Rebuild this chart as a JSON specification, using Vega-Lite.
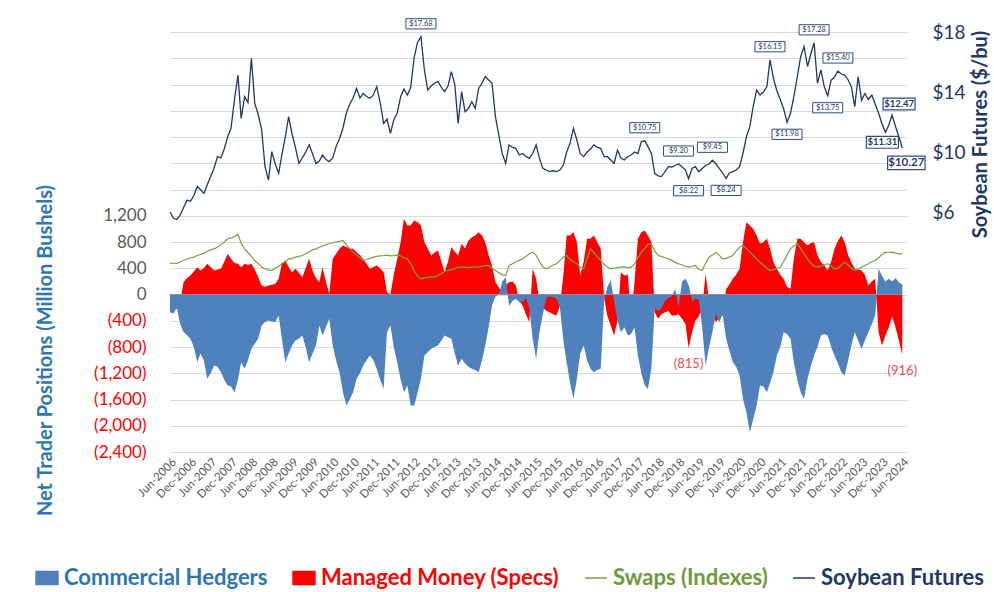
{
"$schema":"https://vega.github.io/schema/vega-lite/v6.json",
"autosize":"none","width":737,"height":420,
"padding":{"left":170,"top":32,"right":87,"bottom":140},
"background":"#ffffff",
"config":{"view":{"stroke":null},"font":"Lato","axis":{"labelOverlap":false,"labelBound":false,"labelFlush":false}},
"datasets":{
"main":[
{"d":"2006-06-01","c":-270,"mm":-150,"s":470,"p":6.0},
{"d":"2006-07-01","c":-290,"mm":-215,"s":480,"p":5.6},
{"d":"2006-08-01","c":-200,"mm":-215,"s":470,"p":5.5},
{"d":"2006-09-01","c":-450,"mm":-100,"s":500,"p":5.8},
{"d":"2006-10-01","c":-574,"mm":187,"s":518,"p":6.3},
{"d":"2006-11-01","c":-620,"mm":250,"s":540,"p":6.8},
{"d":"2006-12-01","c":-675,"mm":290,"s":560,"p":6.7},
{"d":"2007-01-01","c":-800,"mm":350,"s":570,"p":7.1},
{"d":"2007-02-01","c":-1031,"mm":416,"s":594,"p":7.7},
{"d":"2007-03-01","c":-900,"mm":366,"s":610,"p":7.5},
{"d":"2007-04-01","c":-1000,"mm":400,"s":630,"p":7.24},
{"d":"2007-05-01","c":-1285,"mm":468,"s":660,"p":7.8},
{"d":"2007-06-01","c":-1200,"mm":420,"s":680,"p":8.36},
{"d":"2007-07-01","c":-1082,"mm":366,"s":696,"p":8.9},
{"d":"2007-08-01","c":-1100,"mm":380,"s":720,"p":9.69},
{"d":"2007-09-01","c":-1184,"mm":392,"s":760,"p":9.6},
{"d":"2007-10-01","c":-1300,"mm":500,"s":800,"p":10.2},
{"d":"2007-11-01","c":-1387,"mm":620,"s":849,"p":11.02},
{"d":"2007-12-01","c":-1400,"mm":544,"s":860,"p":11.6},
{"d":"2008-01-01","c":-1489,"mm":480,"s":880,"p":13.5},
{"d":"2008-02-01","c":-1300,"mm":468,"s":920,"p":15.13},
{"d":"2008-03-01","c":-1031,"mm":416,"s":780,"p":12.24},
{"d":"2008-04-01","c":-1133,"mm":468,"s":696,"p":13.69},
{"d":"2008-05-01","c":-1000,"mm":450,"s":640,"p":13.3},
{"d":"2008-06-01","c":-828,"mm":468,"s":580,"p":16.24},
{"d":"2008-07-01","c":-750,"mm":380,"s":518,"p":13.24},
{"d":"2008-08-01","c":-675,"mm":264,"s":470,"p":12.5},
{"d":"2008-09-01","c":-472,"mm":137,"s":420,"p":11.47},
{"d":"2008-10-01","c":-420,"mm":120,"s":392,"p":9.02},
{"d":"2008-11-01","c":-396,"mm":137,"s":370,"p":8.13},
{"d":"2008-12-01","c":-410,"mm":150,"s":366,"p":10.02},
{"d":"2009-01-01","c":-420,"mm":160,"s":400,"p":9.2},
{"d":"2009-02-01","c":-320,"mm":239,"s":430,"p":8.58},
{"d":"2009-03-01","c":-675,"mm":468,"s":468,"p":9.8},
{"d":"2009-04-01","c":-1031,"mm":520,"s":500,"p":11.0},
{"d":"2009-05-01","c":-900,"mm":420,"s":544,"p":12.36},
{"d":"2009-06-01","c":-778,"mm":340,"s":550,"p":11.2},
{"d":"2009-07-01","c":-700,"mm":392,"s":570,"p":10.3},
{"d":"2009-08-01","c":-675,"mm":330,"s":580,"p":9.24},
{"d":"2009-09-01","c":-625,"mm":264,"s":594,"p":9.6},
{"d":"2009-10-01","c":-800,"mm":400,"s":620,"p":10.0},
{"d":"2009-11-01","c":-1031,"mm":544,"s":650,"p":10.47},
{"d":"2009-12-01","c":-900,"mm":366,"s":680,"p":9.9},
{"d":"2010-01-01","c":-780,"mm":250,"s":696,"p":9.24},
{"d":"2010-02-01","c":-472,"mm":188,"s":720,"p":9.4},
{"d":"2010-03-01","c":-625,"mm":416,"s":740,"p":9.8},
{"d":"2010-04-01","c":-500,"mm":200,"s":760,"p":9.5},
{"d":"2010-05-01","c":-370,"mm":10,"s":773,"p":9.36},
{"d":"2010-06-01","c":-778,"mm":544,"s":790,"p":9.6},
{"d":"2010-07-01","c":-1000,"mm":620,"s":800,"p":10.36},
{"d":"2010-08-01","c":-1184,"mm":696,"s":810,"p":10.9},
{"d":"2010-09-01","c":-1489,"mm":747,"s":823,"p":11.6},
{"d":"2010-10-01","c":-1692,"mm":722,"s":760,"p":12.58},
{"d":"2010-11-01","c":-1600,"mm":700,"s":696,"p":13.2},
{"d":"2010-12-01","c":-1489,"mm":696,"s":640,"p":13.6},
{"d":"2011-01-01","c":-1285,"mm":645,"s":600,"p":14.24},
{"d":"2011-02-01","c":-1200,"mm":600,"s":560,"p":13.6},
{"d":"2011-03-01","c":-1082,"mm":544,"s":518,"p":13.9},
{"d":"2011-04-01","c":-1000,"mm":470,"s":530,"p":13.7},
{"d":"2011-05-01","c":-930,"mm":392,"s":550,"p":13.58},
{"d":"2011-06-01","c":-1000,"mm":420,"s":569,"p":13.8},
{"d":"2011-07-01","c":-1133,"mm":442,"s":580,"p":14.36},
{"d":"2011-08-01","c":-1300,"mm":400,"s":590,"p":13.3},
{"d":"2011-09-01","c":-1438,"mm":340,"s":594,"p":11.91},
{"d":"2011-10-01","c":-574,"mm":36,"s":600,"p":12.2},
{"d":"2011-11-01","c":-472,"mm":0,"s":590,"p":11.24},
{"d":"2011-12-01","c":-800,"mm":300,"s":594,"p":12.13},
{"d":"2012-01-01","c":-1031,"mm":544,"s":600,"p":12.6},
{"d":"2012-02-01","c":-1300,"mm":800,"s":590,"p":13.69},
{"d":"2012-03-01","c":-1489,"mm":1154,"s":560,"p":14.2},
{"d":"2012-04-01","c":-1387,"mm":1052,"s":544,"p":13.8},
{"d":"2012-05-01","c":-1692,"mm":1052,"s":468,"p":14.3},
{"d":"2012-06-01","c":-1692,"mm":1128,"s":360,"p":16.3},
{"d":"2012-07-01","c":-1500,"mm":1100,"s":280,"p":17.3},
{"d":"2012-08-01","c":-1285,"mm":1052,"s":239,"p":17.68},
{"d":"2012-09-01","c":-930,"mm":798,"s":250,"p":15.47},
{"d":"2012-10-01","c":-880,"mm":700,"s":260,"p":14.13},
{"d":"2012-11-01","c":-828,"mm":594,"s":270,"p":14.4},
{"d":"2012-12-01","c":-800,"mm":640,"s":264,"p":14.6},
{"d":"2013-01-01","c":-778,"mm":671,"s":290,"p":14.69},
{"d":"2013-02-01","c":-700,"mm":500,"s":320,"p":14.3},
{"d":"2013-03-01","c":-625,"mm":340,"s":350,"p":14.02},
{"d":"2013-04-01","c":-650,"mm":500,"s":366,"p":14.4},
{"d":"2013-05-01","c":-675,"mm":722,"s":380,"p":15.36},
{"d":"2013-06-01","c":-900,"mm":650,"s":400,"p":14.5},
{"d":"2013-07-01","c":-1082,"mm":594,"s":410,"p":11.91},
{"d":"2013-08-01","c":-980,"mm":773,"s":416,"p":14.02},
{"d":"2013-09-01","c":-1050,"mm":700,"s":420,"p":12.69},
{"d":"2013-10-01","c":-1100,"mm":820,"s":410,"p":12.9},
{"d":"2013-11-01","c":-1133,"mm":874,"s":416,"p":13.36},
{"d":"2013-12-01","c":-1150,"mm":900,"s":416,"p":12.9},
{"d":"2014-01-01","c":-1184,"mm":950,"s":420,"p":14.24},
{"d":"2014-02-01","c":-1000,"mm":900,"s":430,"p":14.6},
{"d":"2014-03-01","c":-778,"mm":798,"s":440,"p":15.02},
{"d":"2014-04-01","c":-500,"mm":600,"s":442,"p":14.8},
{"d":"2014-05-01","c":-168,"mm":442,"s":400,"p":14.58},
{"d":"2014-06-01","c":-30,"mm":188,"s":366,"p":12.36},
{"d":"2014-07-01","c":0,"mm":112,"s":330,"p":11.13},
{"d":"2014-08-01","c":200,"mm":20,"s":300,"p":9.9},
{"d":"2014-09-01","c":264,"mm":150,"s":290,"p":9.24},
{"d":"2014-10-01","c":-170,"mm":188,"s":442,"p":10.47},
{"d":"2014-11-01","c":-100,"mm":200,"s":470,"p":10.3},
{"d":"2014-12-01","c":-66,"mm":137,"s":500,"p":10.24},
{"d":"2015-01-01","c":-117,"mm":-100,"s":520,"p":9.8},
{"d":"2015-02-01","c":-117,"mm":-170,"s":544,"p":9.9},
{"d":"2015-03-01","c":-50,"mm":-300,"s":580,"p":9.7},
{"d":"2015-04-01","c":-200,"mm":-424,"s":620,"p":9.58},
{"d":"2015-05-01","c":-675,"mm":392,"s":645,"p":9.9},
{"d":"2015-06-01","c":-980,"mm":239,"s":600,"p":10.47},
{"d":"2015-07-01","c":-574,"mm":-100,"s":500,"p":9.58},
{"d":"2015-08-01","c":-300,"mm":-200,"s":420,"p":8.91},
{"d":"2015-09-01","c":-50,"mm":-250,"s":392,"p":8.8},
{"d":"2015-10-01","c":-30,"mm":-270,"s":420,"p":8.69},
{"d":"2015-11-01","c":-40,"mm":-300,"s":450,"p":8.75},
{"d":"2015-12-01","c":-60,"mm":-320,"s":468,"p":8.69},
{"d":"2016-01-01","c":-200,"mm":-170,"s":520,"p":8.8},
{"d":"2016-02-01","c":-700,"mm":300,"s":570,"p":9.13},
{"d":"2016-03-01","c":-1031,"mm":900,"s":594,"p":10.0},
{"d":"2016-04-01","c":-1350,"mm":900,"s":540,"p":10.58},
{"d":"2016-05-01","c":-1590,"mm":950,"s":500,"p":11.58},
{"d":"2016-06-01","c":-1285,"mm":800,"s":468,"p":10.8},
{"d":"2016-07-01","c":-900,"mm":290,"s":420,"p":9.9},
{"d":"2016-08-01","c":-778,"mm":500,"s":392,"p":9.69},
{"d":"2016-09-01","c":-1000,"mm":850,"s":550,"p":10.0},
{"d":"2016-10-01","c":-1133,"mm":850,"s":696,"p":10.2},
{"d":"2016-11-01","c":-1184,"mm":900,"s":640,"p":10.47},
{"d":"2016-12-01","c":-1150,"mm":800,"s":580,"p":10.3},
{"d":"2017-01-01","c":-1133,"mm":696,"s":520,"p":10.24},
{"d":"2017-02-01","c":-100,"mm":-50,"s":460,"p":9.69},
{"d":"2017-03-01","c":112,"mm":-320,"s":420,"p":9.7},
{"d":"2017-04-01","c":220,"mm":-472,"s":392,"p":9.47},
{"d":"2017-05-01","c":-100,"mm":-625,"s":400,"p":9.24},
{"d":"2017-06-01","c":-400,"mm":-400,"s":410,"p":10.13},
{"d":"2017-07-01","c":-574,"mm":340,"s":416,"p":9.6},
{"d":"2017-08-01","c":-500,"mm":290,"s":420,"p":9.47},
{"d":"2017-09-01","c":-625,"mm":300,"s":410,"p":9.7},
{"d":"2017-10-01","c":-600,"mm":-370,"s":416,"p":9.8},
{"d":"2017-11-01","c":-500,"mm":200,"s":470,"p":10.0},
{"d":"2017-12-01","c":-930,"mm":850,"s":560,"p":9.9},
{"d":"2018-01-01","c":-1200,"mm":950,"s":645,"p":10.69},
{"d":"2018-02-01","c":-1387,"mm":975,"s":700,"p":10.75},
{"d":"2018-03-01","c":-1438,"mm":900,"s":760,"p":10.36},
{"d":"2018-04-01","c":-1133,"mm":798,"s":773,"p":9.9},
{"d":"2018-05-01","c":-200,"mm":-270,"s":660,"p":8.58},
{"d":"2018-06-01","c":-250,"mm":-370,"s":594,"p":8.4},
{"d":"2018-07-01","c":-200,"mm":-300,"s":580,"p":8.36},
{"d":"2018-08-01","c":-100,"mm":-270,"s":560,"p":8.7},
{"d":"2018-09-01","c":-50,"mm":-250,"s":544,"p":9.02},
{"d":"2018-10-01","c":-30,"mm":-320,"s":520,"p":9.0},
{"d":"2018-11-01","c":85,"mm":-320,"s":490,"p":9.1},
{"d":"2018-12-01","c":-200,"mm":-300,"s":468,"p":9.2},
{"d":"2019-01-01","c":200,"mm":-370,"s":450,"p":9.02},
{"d":"2019-02-01","c":240,"mm":-450,"s":430,"p":8.8},
{"d":"2019-03-01","c":150,"mm":-815,"s":416,"p":8.22},
{"d":"2019-04-01","c":-100,"mm":-574,"s":430,"p":8.9},
{"d":"2019-05-01","c":-60,"mm":-400,"s":442,"p":9.02},
{"d":"2019-06-01","c":-80,"mm":-330,"s":380,"p":8.69},
{"d":"2019-07-01","c":-500,"mm":-200,"s":366,"p":8.9},
{"d":"2019-08-01","c":-1082,"mm":315,"s":480,"p":9.1},
{"d":"2019-09-01","c":-800,"mm":-100,"s":569,"p":9.2},
{"d":"2019-10-01","c":-570,"mm":-250,"s":600,"p":9.45},
{"d":"2019-11-01","c":-300,"mm":-424,"s":645,"p":9.2},
{"d":"2019-12-01","c":-424,"mm":-350,"s":600,"p":8.91},
{"d":"2020-01-01","c":-300,"mm":-320,"s":544,"p":8.6},
{"d":"2020-02-01","c":-675,"mm":85,"s":550,"p":8.24},
{"d":"2020-03-01","c":-850,"mm":150,"s":570,"p":8.6},
{"d":"2020-04-01","c":-1031,"mm":240,"s":594,"p":8.69},
{"d":"2020-05-01","c":-1100,"mm":300,"s":660,"p":8.8},
{"d":"2020-06-01","c":-1235,"mm":392,"s":720,"p":9.02},
{"d":"2020-07-01","c":-1590,"mm":798,"s":747,"p":9.91},
{"d":"2020-08-01","c":-1794,"mm":1102,"s":700,"p":11.0},
{"d":"2020-09-01","c":-2099,"mm":1052,"s":645,"p":11.69},
{"d":"2020-10-01","c":-1900,"mm":1000,"s":600,"p":13.02},
{"d":"2020-11-01","c":-1692,"mm":900,"s":540,"p":14.13},
{"d":"2020-12-01","c":-1387,"mm":773,"s":492,"p":13.8},
{"d":"2021-01-01","c":-1400,"mm":800,"s":450,"p":14.0},
{"d":"2021-02-01","c":-1489,"mm":850,"s":400,"p":14.36},
{"d":"2021-03-01","c":-1350,"mm":700,"s":366,"p":16.15},
{"d":"2021-04-01","c":-1184,"mm":493,"s":380,"p":14.9},
{"d":"2021-05-01","c":-930,"mm":392,"s":400,"p":14.1},
{"d":"2021-06-01","c":-800,"mm":300,"s":416,"p":13.5},
{"d":"2021-07-01","c":-574,"mm":239,"s":500,"p":12.9},
{"d":"2021-08-01","c":-600,"mm":120,"s":600,"p":11.98},
{"d":"2021-09-01","c":-675,"mm":85,"s":696,"p":12.58},
{"d":"2021-10-01","c":-1031,"mm":544,"s":740,"p":13.69},
{"d":"2021-11-01","c":-1300,"mm":850,"s":773,"p":15.0},
{"d":"2021-12-01","c":-1489,"mm":850,"s":700,"p":16.36},
{"d":"2022-01-01","c":-1590,"mm":798,"s":620,"p":17.02},
{"d":"2022-02-01","c":-1285,"mm":747,"s":544,"p":15.7},
{"d":"2022-03-01","c":-1100,"mm":780,"s":480,"p":16.5},
{"d":"2022-04-01","c":-930,"mm":798,"s":430,"p":17.28},
{"d":"2022-05-01","c":-800,"mm":600,"s":416,"p":14.58},
{"d":"2022-06-01","c":-625,"mm":493,"s":430,"p":15.47},
{"d":"2022-07-01","c":-600,"mm":450,"s":450,"p":14.36},
{"d":"2022-08-01","c":-625,"mm":366,"s":468,"p":13.75},
{"d":"2022-09-01","c":-800,"mm":500,"s":430,"p":14.8},
{"d":"2022-10-01","c":-930,"mm":696,"s":392,"p":15.0},
{"d":"2022-11-01","c":-1050,"mm":820,"s":400,"p":15.4},
{"d":"2022-12-01","c":-1184,"mm":900,"s":450,"p":15.2},
{"d":"2023-01-01","c":-1235,"mm":798,"s":492,"p":15.13},
{"d":"2023-02-01","c":-1000,"mm":600,"s":450,"p":14.8},
{"d":"2023-03-01","c":-778,"mm":493,"s":400,"p":14.36},
{"d":"2023-04-01","c":-574,"mm":392,"s":366,"p":13.02},
{"d":"2023-05-01","c":-700,"mm":380,"s":390,"p":15.02},
{"d":"2023-06-01","c":-828,"mm":366,"s":420,"p":13.46},
{"d":"2023-07-01","c":-700,"mm":300,"s":442,"p":13.9},
{"d":"2023-08-01","c":-574,"mm":137,"s":470,"p":13.5},
{"d":"2023-09-01","c":-450,"mm":200,"s":500,"p":13.8},
{"d":"2023-10-01","c":-320,"mm":239,"s":518,"p":13.2},
{"d":"2023-11-01","c":392,"mm":-574,"s":560,"p":12.58},
{"d":"2023-12-01","c":290,"mm":-778,"s":610,"p":11.9},
{"d":"2024-01-01","c":200,"mm":-625,"s":645,"p":11.31},
{"d":"2024-02-01","c":240,"mm":-500,"s":640,"p":11.8},
{"d":"2024-03-01","c":200,"mm":-330,"s":645,"p":12.47},
{"d":"2024-04-01","c":250,"mm":-500,"s":630,"p":11.7},
{"d":"2024-05-01","c":188,"mm":-700,"s":620,"p":11.02},
{"d":"2024-06-01","c":150,"mm":-916,"s":620,"p":10.27}
],
"plabels":[
{"d":"2012-08-01","p":17.68,"t":"$17.68","k":"sa"},
{"d":"2021-03-01","p":16.15,"t":"$16.15","k":"sa"},
{"d":"2022-04-01","p":17.28,"t":"$17.28","k":"sa"},
{"d":"2022-11-01","p":15.40,"t":"$15.40","k":"sa"},
{"d":"2022-08-01","p":13.75,"t":"$13.75","k":"sb"},
{"d":"2021-08-01","p":11.98,"t":"$11.98","k":"sb"},
{"d":"2018-02-01","p":10.75,"t":"$10.75","k":"sa"},
{"d":"2018-12-01","p":9.20,"t":"$9.20","k":"sa"},
{"d":"2019-10-01","p":9.45,"t":"$9.45","k":"sa"},
{"d":"2019-03-01","p":8.22,"t":"$8.22","k":"sb"},
{"d":"2020-02-01","p":8.24,"t":"$8.24","k":"sb"},
{"d":"2024-03-01","p":12.47,"t":"$12.47","k":"ba"},
{"d":"2024-01-01","p":11.31,"t":"$11.31","k":"bb"},
{"d":"2024-06-01","p":10.27,"t":"$10.27","k":"bc"}
],
"vlabels":[
{"d":"2019-03-01","v":-815,"t":"(815)"},
{"d":"2024-06-01","v":-916,"t":"(916)"}
]
},
"layer":[
{
"layer":[
{
"data":{"name":"main"},
"mark":{"type":"area","opacity":1},
"encoding":{
"x":{"field":"d","type":"temporal","scale":{"type":"utc","domain":[{"year":2006,"month":6,"date":1,"utc":true},{"year":2024,"month":7,"date":13,"utc":true}]},
"axis":{"tickCount":60,"values":[
{"year":2006,"month":6,"date":1,"utc":true},{"year":2006,"month":12,"date":1,"utc":true},
{"year":2007,"month":6,"date":1,"utc":true},{"year":2007,"month":12,"date":1,"utc":true},
{"year":2008,"month":6,"date":1,"utc":true},{"year":2008,"month":12,"date":1,"utc":true},
{"year":2009,"month":6,"date":1,"utc":true},{"year":2009,"month":12,"date":1,"utc":true},
{"year":2010,"month":6,"date":1,"utc":true},{"year":2010,"month":12,"date":1,"utc":true},
{"year":2011,"month":6,"date":1,"utc":true},{"year":2011,"month":12,"date":1,"utc":true},
{"year":2012,"month":6,"date":1,"utc":true},{"year":2012,"month":12,"date":1,"utc":true},
{"year":2013,"month":6,"date":1,"utc":true},{"year":2013,"month":12,"date":1,"utc":true},
{"year":2014,"month":6,"date":1,"utc":true},{"year":2014,"month":12,"date":1,"utc":true},
{"year":2015,"month":6,"date":1,"utc":true},{"year":2015,"month":12,"date":1,"utc":true},
{"year":2016,"month":6,"date":1,"utc":true},{"year":2016,"month":12,"date":1,"utc":true},
{"year":2017,"month":6,"date":1,"utc":true},{"year":2017,"month":12,"date":1,"utc":true},
{"year":2018,"month":6,"date":1,"utc":true},{"year":2018,"month":12,"date":1,"utc":true},
{"year":2019,"month":6,"date":1,"utc":true},{"year":2019,"month":12,"date":1,"utc":true},
{"year":2020,"month":6,"date":1,"utc":true},{"year":2020,"month":12,"date":1,"utc":true},
{"year":2021,"month":6,"date":1,"utc":true},{"year":2021,"month":12,"date":1,"utc":true},
{"year":2022,"month":6,"date":1,"utc":true},{"year":2022,"month":12,"date":1,"utc":true},
{"year":2023,"month":6,"date":1,"utc":true},{"year":2023,"month":12,"date":1,"utc":true},
{"year":2024,"month":6,"date":1,"utc":true}],
"format":"%b-%Y","labelAngle":-45,"labelFont":"Lato","labelFontSize":11.5,"labelColor":"#595959",
"labelOverlap":false,"labelBound":false,"labelFlush":false,"labelPadding":4,"grid":false,"domain":false,"ticks":false,"title":null}},
"y":{"field":"mm","type":"quantitative","scale":{"domain":[-2400,4000],"nice":false,"zero":false},
"axis":{"orient":"left","tickCount":40,"values":[-2400,-2000,-1600,-1200,-800,-400,0,400,800,1200,1600,2000,2400,2800,3200,3600,4000],
"labelExpr":"datum.value > 1200 ? '' : (datum.value < 0 ? '(' + format(-datum.value, ',') + ')' : format(datum.value, ','))",
"labelColor":{"condition":{"test":"datum.value < 0","value":"#FF0000"},"value":"#595959"},
"labelFont":"Lato","labelFontSize":17,"labelPadding":24,"labelOverlap":false,"labelBound":false,
"grid":true,"gridColor":"#D9D9D9","gridWidth":1,"domain":false,"ticks":false,
"title":"Net Trader Positions (Million Bushels)","titleFont":"Lato","titleFontSize":20,"titleFontWeight":"bold","titleColor":"#2E75B6",
"titleAngle":-90,"titleX":-125,"titleY":318,"titleAlign":"center","titleBaseline":"middle"}},
"y2":{"datum":0},
"color":{"datum":"Managed Money (Specs)","type":"nominal",
"scale":{"domain":["Commercial Hedgers","Managed Money (Specs)","Swaps (Indexes)","Soybean Futures"],"range":["#4F81BD","#FF0000","#76A044","#1F3864"]},
"legend":{"orient":"none","legendX":-135,"legendY":534,"direction":"horizontal","title":null,
"labelFont":"Lato","labelFontSize":22,"labelFontWeight":"bold","labelLimit":400,"symbolSize":480,"columnPadding":22,"labelOffset":5,
"encode":{
"symbols":{"update":{
"shape":{"signal":"(datum.value=='Swaps (Indexes)'||datum.value=='Soybean Futures') ? 'stroke' : 'M-1,-0.6L1,-0.6L1,0.6L-1,0.6Z'"},
"stroke":{"signal":"scale('color', datum.value)"},
"strokeWidth":{"value":1.5},"opacity":{"value":1},"fillOpacity":{"value":1},"strokeOpacity":{"value":1}}},
"labels":{"update":{"fill":{"signal":"datum.value=='Commercial Hedgers' ? '#2E75B6' : datum.value=='Managed Money (Specs)' ? '#FF0000' : datum.value=='Swaps (Indexes)' ? '#6E9A3C' : '#1F3864'"}}}
}}}
}
},
{
"data":{"name":"main"},
"mark":{"type":"area","opacity":1},
"encoding":{
"x":{"field":"d","type":"temporal"},
"y":{"field":"c","type":"quantitative"},
"y2":{"datum":0},
"color":{"datum":"Commercial Hedgers","type":"nominal",
"legend":{"orient":"none","legendX":-135,"legendY":534,"direction":"horizontal","title":null,
"labelFont":"Lato","labelFontSize":22,"labelFontWeight":"bold","labelLimit":400,"symbolSize":480,"columnPadding":22,"labelOffset":5,
"encode":{
"symbols":{"update":{
"shape":{"signal":"(datum.value=='Swaps (Indexes)'||datum.value=='Soybean Futures') ? 'stroke' : 'M-1,-0.6L1,-0.6L1,0.6L-1,0.6Z'"},
"stroke":{"signal":"scale('color', datum.value)"},
"strokeWidth":{"value":1.5},"opacity":{"value":1},"fillOpacity":{"value":1},"strokeOpacity":{"value":1}}},
"labels":{"update":{"fill":{"signal":"datum.value=='Commercial Hedgers' ? '#2E75B6' : datum.value=='Managed Money (Specs)' ? '#FF0000' : datum.value=='Swaps (Indexes)' ? '#6E9A3C' : '#1F3864'"}}}
}}}
}
},
{
"data":{"name":"main"},
"mark":{"type":"line","strokeWidth":1.2},
"encoding":{
"x":{"field":"d","type":"temporal"},
"y":{"field":"s","type":"quantitative"},
"color":{"datum":"Swaps (Indexes)","type":"nominal",
"legend":{"orient":"none","legendX":-135,"legendY":534,"direction":"horizontal","title":null,
"labelFont":"Lato","labelFontSize":22,"labelFontWeight":"bold","labelLimit":400,"symbolSize":480,"columnPadding":22,"labelOffset":5,
"encode":{
"symbols":{"update":{
"shape":{"signal":"(datum.value=='Swaps (Indexes)'||datum.value=='Soybean Futures') ? 'stroke' : 'M-1,-0.6L1,-0.6L1,0.6L-1,0.6Z'"},
"stroke":{"signal":"scale('color', datum.value)"},
"strokeWidth":{"value":1.5},"opacity":{"value":1},"fillOpacity":{"value":1},"strokeOpacity":{"value":1}}},
"labels":{"update":{"fill":{"signal":"datum.value=='Commercial Hedgers' ? '#2E75B6' : datum.value=='Managed Money (Specs)' ? '#FF0000' : datum.value=='Swaps (Indexes)' ? '#6E9A3C' : '#1F3864'"}}}
}}}
}
},
{
"data":{"name":"vlabels"},
"mark":{"type":"text","dy":16,"fontSize":13,"font":"Lato","color":"#E84C4C","align":"center","baseline":"middle"},
"encoding":{
"x":{"field":"d","type":"temporal"},
"y":{"field":"v","type":"quantitative"},
"text":{"field":"t"}
}
}
]
},
{
"layer":[
{
"data":{"name":"main"},
"mark":{"type":"line","strokeWidth":1.3},
"encoding":{
"x":{"field":"d","type":"temporal"},
"y":{"field":"p","type":"quantitative","scale":{"domain":[-10,18],"nice":false,"zero":false},
"axis":{"orient":"right","tickCount":20,"values":[-10,-6,-2,2,6,10,14,18],"labelExpr":"datum.value >= 6 ? '$' + datum.value : ''",
"grid":false,"domain":false,"ticks":false,"labelFont":"Lato","labelFontSize":19,"labelColor":"#1F3864","labelPadding":25,"labelOverlap":false,"labelBound":false,
"title":"Soybean Futures ($/bu)","titleFont":"Lato","titleFontSize":20,"titleFontWeight":"bold","titleColor":"#1F3864",
"titleAngle":-90,"titleX":73,"titleY":102,"titleAlign":"center","titleBaseline":"middle"}},
"color":{"datum":"Soybean Futures","type":"nominal",
"legend":{"orient":"none","legendX":-135,"legendY":534,"direction":"horizontal","title":null,
"labelFont":"Lato","labelFontSize":22,"labelFontWeight":"bold","labelLimit":400,"symbolSize":480,"columnPadding":22,"labelOffset":5,
"encode":{
"symbols":{"update":{
"shape":{"signal":"(datum.value=='Swaps (Indexes)'||datum.value=='Soybean Futures') ? 'stroke' : 'M-1,-0.6L1,-0.6L1,0.6L-1,0.6Z'"},
"stroke":{"signal":"scale('color', datum.value)"},
"strokeWidth":{"value":1.5},"opacity":{"value":1},"fillOpacity":{"value":1},"strokeOpacity":{"value":1}}},
"labels":{"update":{"fill":{"signal":"datum.value=='Commercial Hedgers' ? '#2E75B6' : datum.value=='Managed Money (Specs)' ? '#FF0000' : datum.value=='Swaps (Indexes)' ? '#6E9A3C' : '#1F3864'"}}}
}}}
}
},
{
"data":{"name":"plabels"},
"transform":[{"filter":"datum.k=='sa'"}],
"mark":{"type":"point","shape":"M-1,-0.34L1,-0.34L1,0.34L-1,0.34Z","size":900,"filled":true,"fill":"#ffffff","stroke":"#2F4A80","strokeWidth":1,"opacity":1,"yOffset":-13},
"encoding":{"x":{"field":"d","type":"temporal"},"y":{"field":"p","type":"quantitative"}}
},
{
"data":{"name":"plabels"},
"transform":[{"filter":"datum.k=='sa'"}],
"mark":{"type":"text","dy":-13,"fontSize":7.5,"font":"Lato","color":"#1F3864","align":"center","baseline":"middle"},
"encoding":{"x":{"field":"d","type":"temporal"},"y":{"field":"p","type":"quantitative"},"text":{"field":"t"}}
},
{
"data":{"name":"plabels"},
"transform":[{"filter":"datum.k=='sb'"}],
"mark":{"type":"point","shape":"M-1,-0.34L1,-0.34L1,0.34L-1,0.34Z","size":900,"filled":true,"fill":"#ffffff","stroke":"#2F4A80","strokeWidth":1,"opacity":1,"yOffset":12},
"encoding":{"x":{"field":"d","type":"temporal"},"y":{"field":"p","type":"quantitative"}}
},
{
"data":{"name":"plabels"},
"transform":[{"filter":"datum.k=='sb'"}],
"mark":{"type":"text","dy":12,"fontSize":7.5,"font":"Lato","color":"#1F3864","align":"center","baseline":"middle"},
"encoding":{"x":{"field":"d","type":"temporal"},"y":{"field":"p","type":"quantitative"},"text":{"field":"t"}}
},
{
"data":{"name":"plabels"},
"transform":[{"filter":"datum.k=='ba'"}],
"mark":{"type":"point","shape":"M-1,-0.37L1,-0.37L1,0.37L-1,0.37Z","size":1024,"filled":true,"fill":"#ffffff","stroke":"#2F4A80","strokeWidth":1.2,"opacity":1,"yOffset":-11,"xOffset":7},
"encoding":{"x":{"field":"d","type":"temporal"},"y":{"field":"p","type":"quantitative"}}
},
{
"data":{"name":"plabels"},
"transform":[{"filter":"datum.k=='ba'"}],
"mark":{"type":"text","dy":-11,"dx":7,"fontSize":9.5,"fontWeight":"bold","font":"Lato","color":"#1F3864","align":"center","baseline":"middle"},
"encoding":{"x":{"field":"d","type":"temporal"},"y":{"field":"p","type":"quantitative"},"text":{"field":"t"}}
},
{
"data":{"name":"plabels"},
"transform":[{"filter":"datum.k=='bb'"}],
"mark":{"type":"point","shape":"M-1,-0.37L1,-0.37L1,0.37L-1,0.37Z","size":1024,"filled":true,"fill":"#ffffff","stroke":"#2F4A80","strokeWidth":1.2,"opacity":1,"yOffset":10,"xOffset":-3},
"encoding":{"x":{"field":"d","type":"temporal"},"y":{"field":"p","type":"quantitative"}}
},
{
"data":{"name":"plabels"},
"transform":[{"filter":"datum.k=='bb'"}],
"mark":{"type":"text","dy":10,"dx":-3,"fontSize":9.5,"fontWeight":"bold","font":"Lato","color":"#1F3864","align":"center","baseline":"middle"},
"encoding":{"x":{"field":"d","type":"temporal"},"y":{"field":"p","type":"quantitative"},"text":{"field":"t"}}
},
{
"data":{"name":"plabels"},
"transform":[{"filter":"datum.k=='bc'"}],
"mark":{"type":"point","shape":"M-1,-0.36L1,-0.36L1,0.36L-1,0.36Z","size":1400,"filled":true,"fill":"#ffffff","stroke":"#2F4A80","strokeWidth":1.2,"opacity":1,"yOffset":15,"xOffset":4},
"encoding":{"x":{"field":"d","type":"temporal"},"y":{"field":"p","type":"quantitative"}}
},
{
"data":{"name":"plabels"},
"transform":[{"filter":"datum.k=='bc'"}],
"mark":{"type":"text","dy":15,"dx":4,"fontSize":11.5,"fontWeight":"bold","font":"Lato","color":"#1F3864","align":"center","baseline":"middle"},
"encoding":{"x":{"field":"d","type":"temporal"},"y":{"field":"p","type":"quantitative"},"text":{"field":"t"}}
}
]
}
],
"resolve":{"scale":{"y":"independent"},"axis":{"y":"independent"}}
}
